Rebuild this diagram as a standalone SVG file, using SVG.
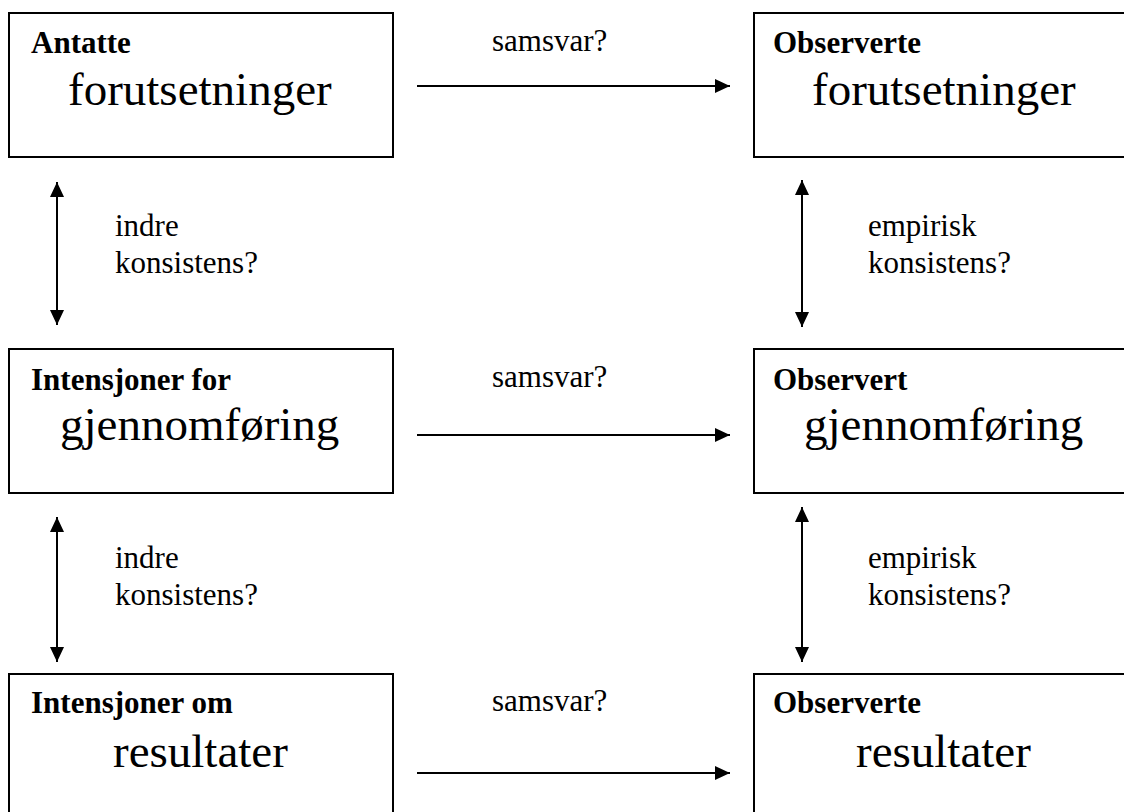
<svg xmlns="http://www.w3.org/2000/svg" width="1124" height="812" viewBox="0 0 1124 812">
<style>
.box{fill:#fff;stroke:#000;stroke-width:2}
.hd{font-family:"Liberation Serif","Times New Roman",serif;font-weight:bold;font-size:31px;fill:#000}
.big{font-family:"Liberation Serif","Times New Roman",serif;font-size:47px;fill:#000}
.lbl{font-family:"Liberation Serif","Times New Roman",serif;font-size:31px;fill:#000}
.con{stroke:#000;stroke-width:2;fill:none}
</style>
<defs>
<marker id="ah" markerUnits="userSpaceOnUse" markerWidth="16" markerHeight="14" refX="15" refY="7" orient="auto-start-reverse">
<path d="M0,0 L15,7 L0,14 z" fill="#000"/>
</marker>
</defs>
<rect width="1124" height="812" fill="#fff"/>
<g id="n-antatte"><rect class="box" x="9" y="13" width="384" height="144"/><text class="hd" x="31" y="53">Antatte</text><text class="big" x="68" y="105">forutsetninger</text></g>
<g id="n-obs-forut"><rect class="box" x="754" y="13" width="400" height="144"/><text class="hd" x="773" y="53">Observerte</text><text class="big" x="812" y="105">forutsetninger</text></g>
<g id="n-int-gjen"><rect class="box" x="9" y="349" width="384" height="144"/><text class="hd" x="31" y="390">Intensjoner for</text><text class="big" x="60" y="440">gjennomføring</text></g>
<g id="n-obs-gjen"><rect class="box" x="754" y="349" width="400" height="144"/><text class="hd" x="773" y="390">Observert</text><text class="big" x="804" y="440">gjennomføring</text></g>
<g id="n-int-res"><rect class="box" x="9" y="674" width="384" height="200"/><text class="hd" x="31" y="713">Intensjoner om</text><text class="big" x="113" y="767">resultater</text></g>
<g id="n-obs-res"><rect class="box" x="754" y="674" width="400" height="200"/><text class="hd" x="773" y="713">Observerte</text><text class="big" x="856" y="767">resultater</text></g>
<g id="connectors">
<line class="con" x1="417" y1="86" x2="730" y2="86" marker-end="url(#ah)"/>
<line class="con" x1="417" y1="435" x2="730" y2="435" marker-end="url(#ah)"/>
<line class="con" x1="417" y1="773" x2="730" y2="773" marker-end="url(#ah)"/>
<line class="con" x1="57" y1="182" x2="57" y2="325" marker-start="url(#ah)" marker-end="url(#ah)"/>
<line class="con" x1="57" y1="517" x2="57" y2="662" marker-start="url(#ah)" marker-end="url(#ah)"/>
<line class="con" x1="802" y1="180" x2="802" y2="327" marker-start="url(#ah)" marker-end="url(#ah)"/>
<line class="con" x1="802" y1="507" x2="802" y2="662" marker-start="url(#ah)" marker-end="url(#ah)"/>
<text class="lbl" x="492" y="51">samsvar?</text>
<text class="lbl" x="492" y="387">samsvar?</text>
<text class="lbl" x="492" y="711">samsvar?</text>
<text class="lbl" x="115" y="236">indre</text>
<text class="lbl" x="115" y="273">konsistens?</text>
<text class="lbl" x="115" y="568">indre</text>
<text class="lbl" x="115" y="605">konsistens?</text>
<text class="lbl" x="868" y="236">empirisk</text>
<text class="lbl" x="868" y="273">konsistens?</text>
<text class="lbl" x="868" y="568">empirisk</text>
<text class="lbl" x="868" y="605">konsistens?</text>
</g>
</svg>
